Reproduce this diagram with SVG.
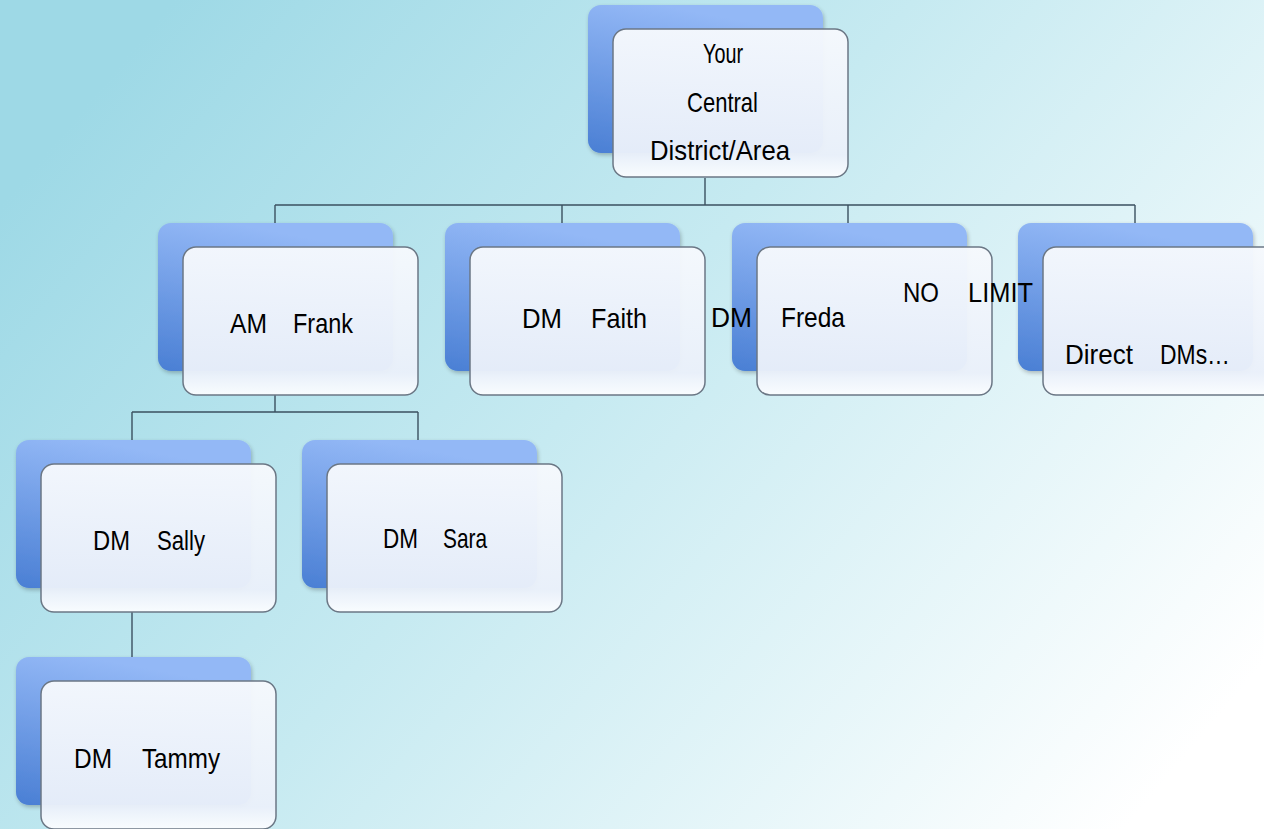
<svg xmlns="http://www.w3.org/2000/svg" width="1264" height="829" viewBox="0 0 1264 829">
<defs>
<linearGradient id="bg" x1="0" y1="0.25" x2="1" y2="0.8">
<stop offset="0" stop-color="#9ed9e6"/>
<stop offset="0.45" stop-color="#c6eaf1"/>
<stop offset="1" stop-color="#ffffff"/>
</linearGradient>
<linearGradient id="back" x1="0.3" y1="0" x2="0" y2="1">
<stop offset="0" stop-color="#93b8f6"/>
<stop offset="1" stop-color="#4a7fd4"/>
</linearGradient>
<linearGradient id="front" x1="0" y1="0" x2="0" y2="1">
<stop offset="0" stop-color="#f6f9fd"/>
<stop offset="0.85" stop-color="#eaf0fa"/>
<stop offset="1" stop-color="#fbfdff"/>
</linearGradient>
<filter id="sh" x="-10%" y="-10%" width="130%" height="130%">
<feGaussianBlur in="SourceAlpha" stdDeviation="2"/>
<feOffset dx="1" dy="2"/>
<feComponentTransfer><feFuncA type="linear" slope="0.25"/></feComponentTransfer>
<feMerge><feMergeNode/><feMergeNode in="SourceGraphic"/></feMerge>
</filter>
</defs>
<style>
.back{fill:url(#back);filter:url(#sh)}
.front{fill:url(#front);fill-opacity:0.96;stroke:#6b7785;stroke-width:1.5}
.lbl{font-family:"Liberation Sans",Arial,sans-serif;font-size:28px;fill:#000}
.conn{fill:none;stroke:#3b5060;stroke-width:1.4}
</style>
<rect width="1264" height="829" fill="url(#bg)"/>
<g id="connectors" class="conn">
<path d="M705,178 V205 M275,205 H1135 M275,205 V223 M562,205 V223 M848,205 V223 M1135,205 V223"/>
<path d="M275,395 V412 M132,412 H418 M132,412 V440 M418,412 V440"/>
<path d="M132,612 V657"/>
</g>
<g id="node-central">
<rect class="back" x="588" y="5" width="235" height="148" rx="13"/>
<rect class="front" x="613" y="29" width="235" height="148" rx="13"/>
<text class="lbl" x="703" y="63" textLength="40" lengthAdjust="spacingAndGlyphs">Your</text>
<text class="lbl" x="687" y="112" textLength="71" lengthAdjust="spacingAndGlyphs">Central</text>
<text class="lbl" x="650" y="160" textLength="140" lengthAdjust="spacingAndGlyphs">District/Area</text>
</g>
<g id="node-frank">
<rect class="back" x="158" y="223" width="235" height="148" rx="13"/>
<rect class="front" x="183" y="247" width="235" height="148" rx="13"/>
<text class="lbl" x="230" y="333" textLength="37" lengthAdjust="spacingAndGlyphs">AM</text>
<text class="lbl" x="293" y="333" textLength="60" lengthAdjust="spacingAndGlyphs">Frank</text>
</g>
<g id="node-faith">
<rect class="back" x="445" y="223" width="235" height="148" rx="13"/>
<rect class="front" x="470" y="247" width="235" height="148" rx="13"/>
<text class="lbl" x="522" y="328" textLength="40" lengthAdjust="spacingAndGlyphs">DM</text>
<text class="lbl" x="591" y="328" textLength="56" lengthAdjust="spacingAndGlyphs">Faith</text>
</g>
<g id="node-direct">
<rect class="back" x="1018" y="223" width="235" height="148" rx="13"/>
<rect class="front" x="1043" y="247" width="235" height="148" rx="13"/>
<text class="lbl" x="1065" y="364" textLength="68" lengthAdjust="spacingAndGlyphs">Direct</text>
<text class="lbl" x="1160" y="364" textLength="70" lengthAdjust="spacingAndGlyphs">DMs…</text>
</g>
<g id="node-freda">
<rect class="back" x="732" y="223" width="235" height="148" rx="13"/>
<rect class="front" x="757" y="247" width="235" height="148" rx="13"/>
<text class="lbl" x="711" y="327" textLength="41" lengthAdjust="spacingAndGlyphs">DM</text>
<text class="lbl" x="781" y="327" textLength="64" lengthAdjust="spacingAndGlyphs">Freda</text>
<text class="lbl" x="903" y="302" textLength="36" lengthAdjust="spacingAndGlyphs">NO</text>
<text class="lbl" x="968" y="302" textLength="65" lengthAdjust="spacingAndGlyphs">LIMIT</text>
</g>
<g id="node-sally">
<rect class="back" x="16" y="440" width="235" height="148" rx="13"/>
<rect class="front" x="41" y="464" width="235" height="148" rx="13"/>
<text class="lbl" x="93" y="550" textLength="37" lengthAdjust="spacingAndGlyphs">DM</text>
<text class="lbl" x="157" y="550" textLength="48" lengthAdjust="spacingAndGlyphs">Sally</text>
</g>
<g id="node-sara">
<rect class="back" x="302" y="440" width="235" height="148" rx="13"/>
<rect class="front" x="327" y="464" width="235" height="148" rx="13"/>
<text class="lbl" x="383" y="548" textLength="35" lengthAdjust="spacingAndGlyphs">DM</text>
<text class="lbl" x="443" y="548" textLength="44" lengthAdjust="spacingAndGlyphs">Sara</text>
</g>
<g id="node-tammy">
<rect class="back" x="16" y="657" width="235" height="148" rx="13"/>
<rect class="front" x="41" y="681" width="235" height="148" rx="13"/>
<text class="lbl" x="74" y="768" textLength="38" lengthAdjust="spacingAndGlyphs">DM</text>
<text class="lbl" x="142" y="768" textLength="78" lengthAdjust="spacingAndGlyphs">Tammy</text>
</g>
</svg>
